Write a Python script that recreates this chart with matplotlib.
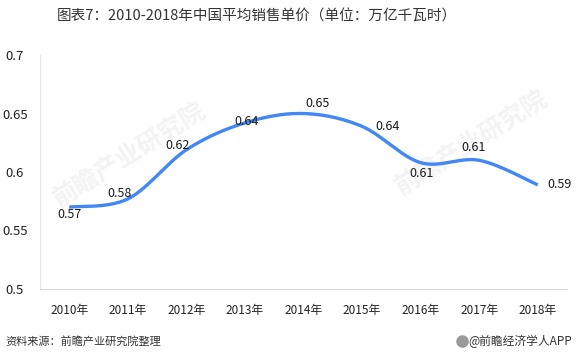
import numpy as np
import matplotlib.pyplot as plt

plt.rcParams['font.family'] = ['Noto Sans CJK SC', 'DejaVu Sans']

years = ['2010年', '2011年', '2012年', '2013年', '2014年', '2015年', '2016年', '2017年', '2018年']
price = [0.570, 0.577, 0.619, 0.642, 0.650, 0.639, 0.608, 0.610, 0.589]
labels = ['0.57', '0.58', '0.62', '0.64', '0.65', '0.64', '0.61', '0.61', '0.59']
# label offsets in points (dx, dy)
offsets = [(0, -5), (-6, 4), (-6, 3), (1, 1), (10, 7), (18, 0), (1, -8), (-4, 9), (16, 0)]
yticks = [0.5, 0.55, 0.6, 0.65, 0.7]


# smoothed line through the points (Catmull-Rom like Excel smooth line)
def smooth(x, y, n=30):
    x = np.asarray(x, float)
    y = np.asarray(y, float)
    px = np.concatenate([[x[0]], x, [x[-1]]])
    py = np.concatenate([[y[0]], y, [y[-1]]])
    xs, ys = [], []
    t = np.linspace(0, 1, n)
    for i in range(1, len(px) - 2):
        p0, p1, p2, p3 = [np.array([px[j], py[j]]) for j in (i - 1, i, i + 1, i + 2)]
        c1 = p1 + (p2 - p0) / 6
        c2 = p2 - (p3 - p1) / 6
        pts = ((1 - t) ** 3)[:, None] * p1 + (3 * (1 - t) ** 2 * t)[:, None] * c1 \
            + (3 * (1 - t) * t ** 2)[:, None] * c2 + (t ** 3)[:, None] * p2
        xs.extend(pts[:, 0])
        ys.extend(pts[:, 1])
    return np.array(xs), np.array(ys)


x = np.arange(len(years))
fig = plt.figure(figsize=(5.78, 3.62), dpi=100)
ax = fig.add_axes([0.0692, 0.2017, 0.9118, 0.6463])

# faint watermarks, below the line and labels
for wx, wy in [(0.17, 0.57), (0.82, 0.62)]:
    ax.text(wx, wy, '前瞻产业研究院', fontsize=18, color='#f3f3f3', rotation=32,
            ha='center', va='center', fontweight='bold', zorder=0.5,
            transform=ax.transAxes)

sx, sy = smooth(x, price)
ax.plot(sx, sy, color='#4287f5', lw=2.4, solid_capstyle='butt', zorder=2)

for xi, v, lab, (dx, dy) in zip(x, price, labels, offsets):
    ax.annotate(lab, (xi, v), xytext=(dx, dy), textcoords='offset points',
                ha='center', va='center', fontsize=9, color='#1a1a1a', zorder=3)

ax.set_xlim(-0.5, len(years) - 0.5)
ax.set_ylim(0.5, 0.7)
ax.set_xticks(x)
ax.set_xticklabels(years, fontsize=8.5, color='#222222')
ax.set_yticks(yticks)
ax.set_yticklabels(['0.5', '0.55', '0.6', '0.65', '0.7'], fontsize=9.5, color='#222222', ha='center')
ax.tick_params(axis='x', length=0, pad=11)
ax.tick_params(axis='y', length=0, pad=18)
for s in ['top', 'right']:
    ax.spines[s].set_visible(False)
ax.spines['left'].set_color('#e6e6e6')
ax.spines['bottom'].set_color('#d9d9d9')
ax.spines['left'].set_linewidth(0.8)
ax.spines['bottom'].set_linewidth(0.8)

fig.text(0.445, 0.955, '图表7：2010-2018年中国平均销售单价（单位：万亿千瓦时）',
         ha='center', va='center', fontsize=10.5, color='#333333')
fig.text(0.01, 0.058, '资料来源：前瞻产业研究院整理', ha='left', va='center',
         fontsize=8, color='#333333', style='italic')
fig.text(0.99, 0.058, '@前瞻经济学人APP', ha='right', va='center',
         fontsize=8.5, color='#333333')
fig.add_artist(plt.Line2D([0.8], [0.058], marker='o', markersize=8, color='#9a9a9a',
                          transform=fig.transFigure))

fig.savefig('out.png', dpi=100)
